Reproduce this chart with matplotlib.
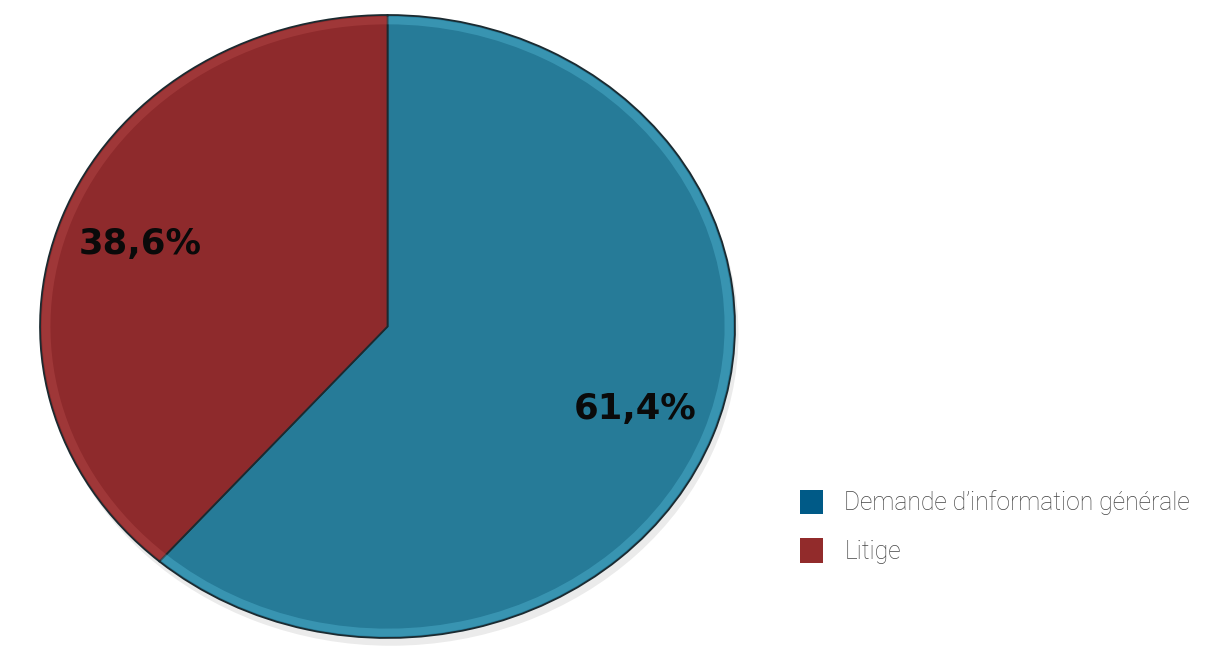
import matplotlib.pyplot as plt
from matplotlib.patches import Patch

labels = ['Demande d\u2019information générale', 'Litige']
shares = [61.4, 38.6]
pie_colors = ['#267b98', '#8e2a2c']
legend_colors = ['#005a87', '#922b2b']

fig = plt.figure(figsize=(12.24, 6.52), dpi=100)
ax = fig.add_axes([0.0327, 0.0215, 0.5678, 0.9555])

# faint drop shadow under the disc
ax.pie([1], radius=1.0, colors=['#000000'], center=(0.01, -0.025),
       wedgeprops=dict(alpha=0.08, linewidth=0, clip_on=False))

fmt = lambda p: '{:.1f}%'.format(p).replace('.', ',')
wedges, texts, autotexts = ax.pie(
    shares, colors=pie_colors, startangle=90, counterclock=False,
    autopct=fmt, pctdistance=0.76,
    wedgeprops=dict(edgecolor='#1b2a30', linewidth=1.3, clip_on=False),
    textprops=dict(fontsize=25.5, fontweight='bold', color='#0a0a0a',
                   family='DejaVu Sans'))

# light bevel ring just inside the rim
ax.pie(shares, radius=0.995, startangle=90, counterclock=False,
       colors=['#5cc3e0', '#c0504f'],
       wedgeprops=dict(width=0.025, linewidth=0, alpha=0.35, clip_on=False))

ax.set_xlim(-1.0, 1.0)
ax.set_ylim(-1.0, 1.0)
ax.set_aspect('auto')
ax.axis('off')

handles = [Patch(facecolor=c, edgecolor='none') for c in legend_colors]
fig.legend(handles, labels, loc='upper left', bbox_to_anchor=(0.6355, 0.283),
           frameon=False, handlelength=0.95, handleheight=1.15,
           handletextpad=0.85, labelspacing=0.95,
           prop=dict(family='Roboto', weight='light', size=17.7),
           labelcolor='#444444')

fig.savefig('out.png', dpi=100)
